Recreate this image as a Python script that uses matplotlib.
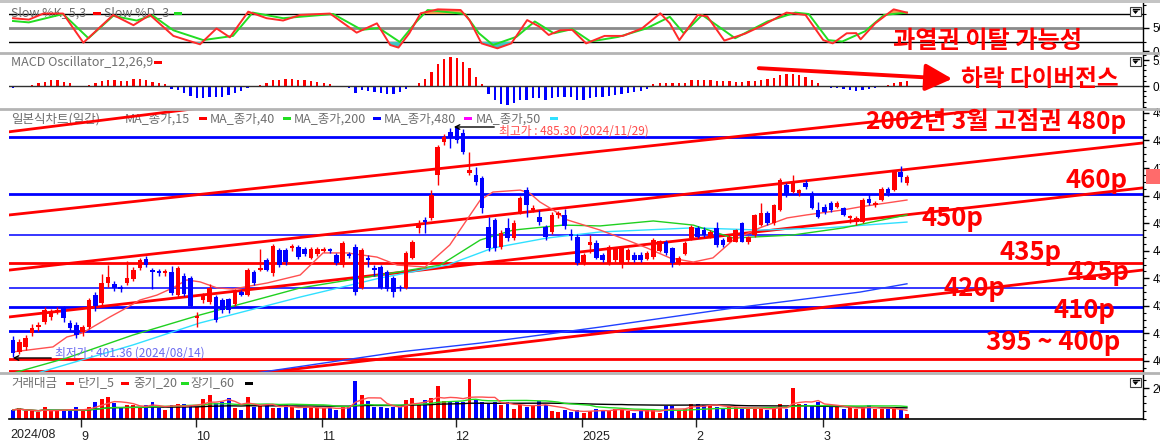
import numpy as np
import pandas as pd
import matplotlib
matplotlib.use("Agg")
import matplotlib.pyplot as plt
from matplotlib.patches import Rectangle, Polygon, FancyArrowPatch
from matplotlib.lines import Line2D
from matplotlib.ticker import MultipleLocator, FixedLocator

plt.rcParams['font.family'] = ['Noto Sans CJK KR', 'DejaVu Sans']

# ------------------------------------------------------------------ data
opens = [407.6,403.3,405.1,410.2,412.2,414.1,416.0,417.8,419.2,413.8,
413.1,410.5,412.3,423.9,421.0,428.3,427.8,426.6,428.3,429.7,
433.7,437.0,433.0,432.8,431.8,432.3,423.9,430.8,430.1,415.6,
422.1,421.4,423.2,422.1,422.5,420.7,425.0,423.9,432.3,433.0,
436.6,431.9,440.3,440.3,441.0,441.4,440.6,437.4,438.9,440.0,
440.5,438.5,434.8,438.9,441.4,426.5,437.0,433.2,434.1,432.3,
430.1,426.8,426.5,437.4,448.3,451.2,451.9,467.5,479.5,483.1,
484.5,482.7,468.2,467.5,466.4,448.6,451.2,441.4,448.3,444.6,
454.1,462.0,454.8,452.2,448.6,446.8,453.0,453.0,446.0,444.9,
435.4,442.0,442.7,438.5,435.4,436.6,435.4,436.6,438.5,438.5,
437.0,437.8,440.0,443.3,440.9,435.5,438.8,444.5,448.1,447.5,
445.1,448.1,443.9,443.3,443.3,449.9,443.3,445.7,449.3,453.6,
450.0,454.8,463.9,461.4,460.8,464.7,461.0,454.8,456.0,457.4,
456.0,455.4,451.8,450.5,450.5,458.6,456.6,458.4,462.3,462.0,
468.7,464.7]
highs = [409.1,408.0,409.5,413.4,414.0,419.6,419.0,419.5,420.0,415.0,
414.0,413.0,423.0,425.0,431.6,434.8,429.0,427.5,436.3,434.0,
437.5,438.1,433.8,433.5,433.5,434.5,434.5,432.0,431.0,417.8,
424.5,428.0,424.0,423.0,423.0,426.0,425.8,433.8,433.0,440.6,
437.5,442.5,441.0,441.0,442.5,442.0,441.5,441.5,441.3,441.2,
441.0,439.2,443.5,439.5,442.5,441.0,438.5,434.8,435.0,433.0,
431.0,427.5,440.0,444.0,451.2,452.2,462.0,478.5,482.5,484.5,
485.3,484.0,475.8,470.4,467.0,452.2,452.0,447.5,451.9,451.0,
460.0,463.0,456.5,454.8,449.5,454.0,454.5,455.0,448.0,446.0,
439.0,445.7,444.0,439.0,442.0,441.5,441.5,441.0,439.5,439.5,
440.0,444.5,444.0,444.0,441.5,438.0,443.5,449.3,449.0,448.5,
447.5,450.5,444.5,445.8,448.0,450.5,445.5,453.5,457.2,454.5,
457.0,466.5,464.5,467.5,462.5,465.5,461.5,457.8,456.8,458.0,
458.0,456.0,453.0,452.5,459.0,460.5,458.0,463.0,463.0,469.0,
470.8,467.5]
lows = [401.4,402.5,404.0,409.0,411.0,413.5,415.0,417.0,414.1,411.0,
408.5,409.0,411.5,418.0,420.0,427.0,425.5,425.0,427.5,429.0,
433.0,434.0,426.1,431.0,431.0,424.0,423.0,423.5,419.5,412.3,
421.0,420.5,414.0,417.5,417.5,420.0,423.5,423.5,427.5,432.5,
432.5,431.0,434.0,435.0,440.0,437.0,438.0,437.0,438.0,439.5,
439.0,435.0,434.0,437.5,424.0,426.0,434.0,431.0,426.0,425.5,
423.2,425.5,426.0,437.0,446.4,446.4,451.0,463.9,478.5,477.3,
479.0,475.0,467.5,464.0,453.7,440.0,440.0,440.5,443.5,444.0,
453.5,452.2,454.0,449.5,444.0,446.0,452.0,448.0,444.0,435.0,
435.0,439.0,437.0,436.0,435.0,436.0,433.6,436.0,436.0,436.0,
436.5,437.0,439.5,438.5,434.2,435.0,438.5,444.0,444.5,445.0,
444.5,441.5,441.5,443.0,443.0,443.0,442.5,445.0,449.0,449.5,
449.5,454.5,459.5,461.0,460.0,462.5,455.0,452.0,453.5,454.0,
455.5,452.5,450.0,449.5,450.0,456.5,456.0,458.0,460.0,461.5,
465.0,464.0]
closes = [402.9,406.9,408.3,412.0,413.0,418.5,417.8,418.5,415.6,412.0,
409.4,412.3,422.1,420.0,428.3,430.5,426.6,426.0,430.1,433.0,
436.6,434.8,432.2,432.0,432.5,424.7,433.7,424.3,420.0,416.3,
423.9,426.5,414.9,418.5,418.5,425.0,424.0,433.0,428.3,433.7,
433.0,441.7,434.8,435.9,441.7,437.7,438.9,440.6,440.6,440.6,
439.8,435.6,442.8,438.0,425.0,440.3,436.5,433.0,426.5,426.1,
425.0,426.3,439.2,443.2,449.3,450.4,460.2,477.6,481.3,480.9,
480.2,475.8,469.3,464.9,455.5,441.0,441.0,446.4,444.6,450.1,
459.1,456.6,455.5,450.4,445.0,453.0,453.6,448.8,445.5,435.4,
438.5,443.0,437.3,436.6,441.3,440.9,440.9,440.3,436.6,436.6,
439.0,443.9,443.5,439.1,435.4,437.5,442.9,448.7,445.1,445.7,
446.9,442.1,442.1,445.1,447.5,443.3,444.9,453.0,453.6,450.0,
456.6,465.7,460.2,465.1,462.0,463.2,455.4,452.4,454.2,454.8,
457.4,453.0,452.4,451.8,458.4,457.2,457.4,462.3,460.8,468.7,
466.9,466.9]
volume = [5.8,6.9,4.8,4.8,4.2,7.9,4.8,5.4,5.8,5.8,
7.5,4.8,7.9,11.1,12.5,13.8,10.4,6.9,8.9,8.9,
6.9,8.9,11.1,6.9,5.8,8.9,9.6,9.6,8.3,7.9,
12.5,15.2,10.0,11.1,13.1,6.9,5.8,14.2,7.9,8.9,
8.9,6.9,6.9,8.9,7.9,5.8,7.9,7.5,6.9,6.9,
6.9,5.8,7.9,8.3,24.4,15.2,11.7,7.9,7.9,6.9,
7.9,7.5,12.3,13.6,8.8,11.9,13.6,21.3,11.4,10.8,
10.8,10.8,25.4,12.3,10.8,9.8,10.8,8.8,10.8,6.7,
8.8,7.7,8.8,11.4,8.8,5.2,4.6,5.6,4.6,5.6,
3.9,5.2,6.7,5.6,5.2,6.7,6.1,5.2,3.9,5.2,
5.6,6.1,3.9,8.1,8.1,5.6,6.7,9.8,9.8,8.8,
8.8,7.7,6.7,7.7,7.7,6.7,6.7,6.7,6.7,5.6,
7.7,9.4,6.1,19.8,9.8,9.8,8.8,10.8,8.8,7.7,
7.7,6.1,7.7,6.1,7.7,8.8,6.1,6.1,6.1,6.7,
5.6,3.1]
macd_osc = [-0.45,-0.25,0.0,0.2,0.5,0.8,1.15,1.15,0.8,0.5,
0.05,-0.25,0.2,0.5,1.0,1.15,1.15,1.0,1.0,1.3,
1.4,1.15,0.8,0.65,0.4,-0.65,-0.8,-1.4,-1.9,-2.4,
-2.4,-2.2,-2.2,-2.05,-1.7,-1.4,-0.9,-0.45,-0.05,0.2,
0.5,1.15,1.15,1.3,1.3,1.15,1.15,1.0,0.8,0.65,
0.4,-0.25,-0.05,-0.45,-1.4,-0.8,-0.9,-1.1,-1.4,-1.5,
-1.5,-1.1,-0.6,-0.2,0.5,1.3,2.75,4.2,5.1,5.5,
5.3,4.7,3.4,1.8,0.4,-1.5,-2.7,-3.5,-3.65,-3.2,
-2.7,-2.6,-2.4,-2.4,-2.7,-2.4,-2.05,-2.05,-2.2,-2.6,
-2.6,-2.4,-2.2,-2.05,-1.9,-1.7,-1.5,-1.3,-1.1,-0.9,
-0.65,0.4,0.5,0.5,0.5,0.5,0.65,1.15,1.15,1.15,
1.15,1.0,1.0,0.9,0.75,0.75,0.9,1.0,1.15,1.3,
1.5,2.1,2.3,2.3,2.1,1.8,1.15,0.5,-0.25,-0.4,
-0.4,-0.5,-0.8,-1.0,-0.8,-0.65,-0.4,-0.1,0.25,0.65,
0.8,0.95]

stoch_k_idx = [0,2.5,4.8,7.9,11.1,15.8,19,21.6,25.3,29.5,32.1,34.2,37.1,40,42.6,45.3,50,54.2,57.4,59.5,
               60.8,62.5,64.3,67,70.6,72,73.9,76.4,78.6,81.1,83,84.5,86.3,88.2,90.4,93.3,96.2,99.2,102.1,103.6,
               105.1,108,109.5,112.2,115.5,118.3,122,125,127.8,129.3,131.5,133,133.7,136,138.9,141]
stoch_k = [71,68,81,81,18.5,78,56,78,33,15,49,30,85,71,66,78,81,40,60,13.5,
           8,38.6,81.5,90,88.6,67,17,6.4,17,67,53,35,45,46,17,33,33,49,81.5,60,
           24,78,75,23,38,56,83,78,24,17,38.6,39,25.7,60,90,83]
stoch_d_idx = [0,2.5,7.9,11.9,15.8,19.5,22,25.3,30,34.7,37.8,42.6,50.5,55,57.7,61,63.6,65.4,71.3,73.5,
               75.7,79.4,82.3,85.3,88.2,91.1,95.5,99.9,103.6,105.8,108.7,113.9,119,123.4,125.5,128.6,130.8,134.4,137.4,141]
stoch_d = [65,62,80,28,76,66,77,45,24,33,83,71,80,46,50,20,63,88.6,80,38.6,
           13.5,31,64,38.6,47.6,21,31,49,74,38.6,78,28,64,83,80,24,21,43,78,83]

ma15_idx = [0,6.3,8.5,11.0,15.3,17.3,20.0,22.7,25.2,27.4,29.5,32.2,34.7,40.1,45.3,48.9,52.7,57.4,60.6,65.0,
            68.9,73.7,75.7,80.0,81.5,83.1,85.2,87.4,92.6,96.8,100.0,103.6,107.3,110.4,113.6,117.8,122.1,125.2,130.9,133.6,141.0]
ma15 = [403.3,405.1,408.7,410.2,416.0,418.5,422.1,423.9,426.5,429.4,428.7,426.5,426.1,428.3,431.2,439.2,439.2,437.7,434.8,434.1,
        442.1,458.4,461.3,462.0,460.9,457.7,454.8,451.2,447.5,443.9,441.0,437.4,435.9,437.4,443.9,448.3,451.9,453.0,454.8,455.9,458.4]
ma40_idx = [0,8.5,18.9,29.5,40,45.3,57.9,67.4,73.7,78.9,86.8,92.6,101,107.3,113.6,123,131,141]
ma40 = [395.6,401.1,409.4,416.7,423.2,426.5,431.2,434.8,443.9,447.5,449.3,449.0,450.8,449.3,444.6,445.7,448.3,453.0]
ma50_idx = [0,3.8,18.9,29.5,45.3,57.9,68.5,75.7,84.2,92.6,107.3,117.8,128.4,141]
ma50 = [392.0,395.6,405.8,413.8,423.2,430.1,434.8,441.0,444.6,446.8,448.3,447.5,448.3,450.4]
ma200_idx = [30,38.2,61,73.7,92.6,113.6,133.6,141]
ma200 = [392.5,395.6,403.3,406.5,412.3,419.2,425.0,428.0]

# analyst support / resistance levels
levels_blue_thick = [481.4, 460.6, 419.7, 411.0]
levels_blue_thin = [445.7, 426.4]
levels_red = [435.4, 400.7, 396.5]
trend_start_idx = [-0.8, -0.5, -0.5, -0.5, 39.0]
trend_start_val = [483.1, 453.0, 433.0, 416.0, 395.6]
trend_end_idx = [45.3, 178.2, 178.2, 178.2, 178.2]
trend_end_val = [496.3, 497.3, 479.1, 462.8, 433.0]

month_start = [12, 30, 50, 71, 91, 109, 129]
month_labels = ['9', '10', '11', '12', '2025', '2', '3']
price_ticks = [400, 410, 420, 430, 440, 450, 460, 470, 480, 490]

# ------------------------------------------------------------------ figure
W, H = 1160, 445
fig = plt.figure(figsize=(W / 100, H / 100), dpi=100)
fig.patch.set_facecolor('white')

X0, DX = 13.0, 6.34
PL, PR = 9, 1143
XLIM = ((PL - X0) / DX, (PR - X0) / DX)
RED, BLUE = '#ff0000', '#0000ff'
GREY_TXT = '#6e6e6e'


def fx(x):
    return x / W


def fy(y):
    return 1 - y / H


def add_panel(top, bottom):
    ax = fig.add_axes([fx(PL), fy(bottom), (PR - PL) / W, (bottom - top) / H])
    ax.set_xlim(*XLIM)
    for s in ['top', 'left', 'bottom']:
        ax.spines[s].set_visible(False)
    ax.spines['right'].set_color('black')
    ax.spines['right'].set_linewidth(1)
    ax.yaxis.tick_right()
    ax.tick_params(axis='y', which='major', length=4, width=1, labelsize=8.5, pad=3,
                   direction='out', labelfontfamily='Liberation Sans')
    ax.tick_params(axis='y', which='minor', length=2, width=0.8, direction='out')
    ax.set_xticks([])
    ax.patch.set_alpha(0)
    return ax


def frect(x0, y0, x1, y1, **kw):
    fig.add_artist(Rectangle((fx(x0), fy(y1)), (x1 - x0) / W, (y1 - y0) / H,
                             transform=fig.transFigure, **kw))


def fline(xs, ys, **kw):
    fig.add_artist(Line2D([fx(x) for x in xs], [fy(y) for y in ys], transform=fig.transFigure, **kw))


ax_st = add_panel(3, 52)
ax_md = add_panel(53, 108)
ax_pr = add_panel(110, 372)
ax_vo = add_panel(374, 419)

o = np.array(opens); h = np.array(highs); l = np.array(lows); c = np.array(closes)
n = len(c)
xi = np.arange(n)
up = c >= o
cols = np.where(up, RED, BLUE)

# ---------------- stochastic
ax_st.set_ylim(-1.5, 103.6)
ax_st.axhline(80, color='black', lw=1, zorder=1)
ax_st.axhline(20, color='black', lw=1, zorder=1)
ax_st.axhline(50, color='#8a8a8a', lw=2, zorder=1)
kx = np.array(stoch_k_idx); kv = np.array(stoch_k)
ax_st.fill_between(kx, kv, 80, where=kv > 80, interpolate=True, color='#f0a050', lw=0, zorder=2)
ax_st.fill_between(kx, kv, 20, where=kv < 20, interpolate=True, color='#40c4c4', lw=0, zorder=2)
ax_st.plot(stoch_d_idx, stoch_d, color='#22dd22', lw=1.4, zorder=3)
ax_st.plot(kx, kv, color='#ff2a2a', lw=1.4, zorder=4)
ax_st.set_yticks([0, 50])
ax_st.set_yticklabels(['0.00', '50.00'])
ax_st.yaxis.set_minor_locator(FixedLocator([20, 80, 100]))
ax_st.text(fx(11), fy(13), 'Slow %K_5,3', transform=fig.transFigure, fontsize=9, color=GREY_TXT,
           va='center', ha='left', zorder=1)
ax_st.text(fx(104), fy(13), 'Slow %D_3', transform=fig.transFigure, fontsize=9, color=GREY_TXT,
           va='center', ha='left', zorder=1)
frect(93, 11.5, 101, 14.5, fc=RED, ec='none')
frect(174, 11.5, 182, 14.5, fc='#22dd22', ec='none')

# ---------------- MACD oscillator
ax_md.set_ylim(-4.23, 6.35)
mv = np.array(macd_osc)
ax_md.bar(xi, mv, width=0.36, color=np.where(mv >= 0, RED, BLUE), lw=0, zorder=2)
ax_md.axhline(0, color='#303030', lw=1, zorder=3)
ax_md.set_yticks([0, 5])
ax_md.set_yticklabels(['0.00', '5.00'])
ax_md.yaxis.set_minor_locator(MultipleLocator(1))
ax_md.text(fx(11), fy(62), 'MACD Oscillator_12,26,9', transform=fig.transFigure, fontsize=9,
           color=GREY_TXT, va='center', ha='left')
frect(154, 60.5, 162, 63.5, fc=RED, ec='none')

# ---------------- price panel
ax_pr.set_ylim(396.0, 491.06)
for v in levels_blue_thin:
    ax_pr.axhline(v, color=BLUE, lw=1.1, zorder=1)
for v in levels_blue_thick:
    ax_pr.axhline(v, color=BLUE, lw=2, zorder=1)
for v in levels_red:
    ax_pr.axhline(v, color=RED, lw=2, zorder=1)
for a, b, cc, d in zip(trend_start_idx, trend_start_val, trend_end_idx, trend_end_val):
    ax_pr.plot([a, cc], [b, d], color=RED, lw=2, zorder=1)

ax_pr.plot(ma200_idx, ma200, color='#2040ff', lw=1, zorder=2)
ax_pr.plot(ma50_idx, ma50, color='#30e0ff', lw=1, zorder=2)
ax_pr.plot(ma40_idx, ma40, color='#20d020', lw=1, zorder=2)
ax_pr.plot(ma15_idx, ma15, color='#ff5050', lw=1, zorder=2)

ax_pr.vlines(xi, l, h, colors=cols, lw=1, zorder=3)
body_lo = np.minimum(o, c)
body_h = np.maximum(np.abs(c - o), 0.7)
ax_pr.bar(xi, body_h, bottom=body_lo, width=0.72, color=cols, lw=0, zorder=4)

ax_pr.set_yticks(price_ticks)
ax_pr.set_yticklabels([f'{v:.2f}' for v in price_ticks])
ax_pr.yaxis.set_minor_locator(MultipleLocator(2.5))

# legend of main panel
leg_items = [('일본식차트(일간)', None, 11), ('MA_종가,15', RED, 125), ('MA_종가,40', '#22dd22', 210),
             ('MA_종가,200', BLUE, 294), ('MA_종가,480', '#ff00ff', 384), ('MA_종가,50', '#30e0ff', 476)]
for txt, colr, xl in leg_items:
    ax_pr.text(fx(xl), fy(119), txt, transform=fig.transFigure, fontsize=9, color=GREY_TXT,
               va='center', ha='left', zorder=0)
for colr, xm in [(RED, 199), ('#22dd22', 283), (BLUE, 373), ('#ff00ff', 464), ('#30e0ff', 550)]:
    frect(xm, 117.5, xm + 8, 120.5, fc=colr, ec='none')

# high / low notes
fig.add_artist(FancyArrowPatch((fx(497), fy(127)), (fx(451), fy(127)), transform=fig.transFigure,
                               arrowstyle='->', mutation_scale=8, color='black', lw=1))
fig.text(fx(499), fy(131), '최고가 : 485.30 (2024/11/29)', fontsize=8.5, color='#ff4a4a',
         va='center', ha='left')
fig.add_artist(FancyArrowPatch((fx(54), fy(358)), (fx(10), fy(358)), transform=fig.transFigure,
                               arrowstyle='->', mutation_scale=8, color='black', lw=1))
fig.text(fx(55), fy(353), '최저가 : 401.36 (2024/08/14)', fontsize=8.5, color='#6a6af0',
         va='center', ha='left')

# ---------------- volume panel
vol = pd.Series(volume)
ax_vo.set_ylim(0, 28.75)
ax_vo.bar(xi, vol, width=0.62, color=cols, lw=0, zorder=2)
ax_vo.plot(xi, vol.rolling(60, min_periods=1).mean(), color='black', lw=1, zorder=3)
ax_vo.plot(xi, vol.rolling(20, min_periods=1).mean(), color='#22dd22', lw=1, zorder=3)
ax_vo.plot(xi, vol.rolling(5, min_periods=1).mean(), color='#ff5050', lw=1, zorder=3)
ax_vo.spines['bottom'].set_visible(True)
ax_vo.spines['bottom'].set_color('black')
ax_vo.spines['bottom'].set_linewidth(1.2)
ax_vo.set_yticks([20])
ax_vo.set_yticklabels(['20,000'])
ax_vo.yaxis.set_minor_locator(MultipleLocator(5))
ax_vo.set_xticks(np.array(month_start) - 1.2)
ax_vo.set_xticklabels(month_labels)
ax_vo.tick_params(axis='x', length=6, width=1, direction='out', labelsize=9, pad=3,
                  labelfontfamily='Liberation Sans', colors='#202020')
for lb in ax_vo.get_xticklabels():
    lb.set_ha('left')
fig.text(fx(10), fy(435), '2024/08', fontsize=9, family='Liberation Sans', color='#202020',
         va='center', ha='left')
vleg = [('거래대금', 11), ('단기_5', 78), ('중기_20', 133), ('장기_60', 190)]
for txt, xl in vleg:
    ax_vo.text(fx(xl), fy(383), txt, transform=fig.transFigure, fontsize=9, color=GREY_TXT,
               va='center', ha='left', zorder=1)
for colr, xm in [(RED, 66), (RED, 121), ('#22dd22', 181), ('black', 245)]:
    frect(xm, 381.5, xm + 8, 384.5, fc=colr, ec='none')

# ---------------- frame decorations
frect(0, 0, W, 3, fc='#c4c4c4', ec='none')
for yy in (52.5, 109, 373):
    fline([0, W], [yy, yy], color='#b4b4b4', lw=2)
for yb in (7, 57, 378):
    frect(1130, yb, 1141, yb + 9, fc='white', ec='#404040', lw=0.8)
    fig.add_artist(Polygon([(fx(1132.5), fy(yb + 3.5)), (fx(1138.5), fy(yb + 3.5)), (fx(1135.5), fy(yb + 7))],
                           closed=True, transform=fig.transFigure, fc='black', ec='none'))
    fline([1132.5, 1138.5], [yb + 2.2, yb + 2.2], color='black', lw=1)
frect(1146, 169, W, 184, fc='#ff6b6b', ec='none')

# ---------------- analyst annotations
ann_kw = dict(color=RED, fontweight='bold', va='center', ha='left',
              family=['Noto Sans CJK KR', 'DejaVu Sans'])
fig.text(fx(893), fy(41), '과열권 이탈 가능성', fontsize=17.4, **ann_kw)
fig.text(fx(961), fy(79), '하락 다이버전스', fontsize=17.0, **ann_kw)
fig.add_artist(FancyArrowPatch((fx(756), fy(68)), (fx(955), fy(79)), transform=fig.transFigure,
                               arrowstyle='-|>,head_length=0.75,head_width=0.38', mutation_scale=22,
                               color=RED, lw=2.8))
fig.text(fx(866), fy(121), '2002년 3월 고점권 480p', fontsize=17.6, **ann_kw)
fig.text(fx(1066), fy(181), '460p', fontsize=18.5, **ann_kw)
fig.text(fx(921), fy(218), '450p', fontsize=18.5, **ann_kw)
fig.text(fx(1000), fy(253), '435p', fontsize=18.5, **ann_kw)
fig.text(fx(1067), fy(273), '425p', fontsize=18.5, **ann_kw)
fig.text(fx(944), fy(289), '420p', fontsize=18.5, **ann_kw)
fig.text(fx(1054), fy(310), '410p', fontsize=18.5, **ann_kw)
fig.text(fx(986), fy(342), '395 ~ 400p', fontsize=18.5, **ann_kw)

fig.savefig('out.png', dpi=100)
